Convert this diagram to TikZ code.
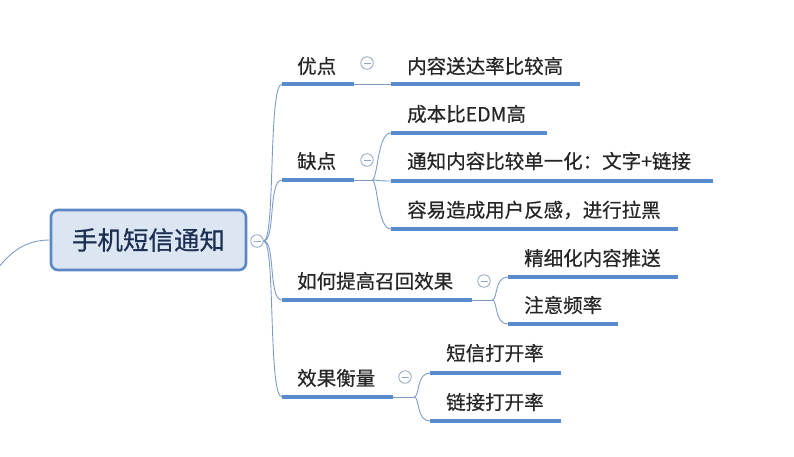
\documentclass[tikz,border=0pt]{standalone}
\usepackage{fontspec}
\setmainfont{Noto Sans CJK SC}[BoldFont=Noto Sans CJK SC, BoldFeatures={FakeBold=0.6}]
\definecolor{ln}{HTML}{5B8BCF}
\definecolor{cn}{HTML}{7C9CC8}
\definecolor{rootfill}{HTML}{DCE6F2}
\definecolor{rootdraw}{HTML}{5A87C5}
\definecolor{roottext}{HTML}{1B2F52}
\definecolor{tg}{HTML}{8FA6C6}
\tikzset{
  ul/.style={line width=4pt, draw=ln},
  conn/.style={line width=0.9pt, draw=cn},
  lab/.style={font=\fontsize{19.5}{20}\selectfont\bfseries, text=black!85, inner sep=0pt, anchor=west},
  tog/.style={circle, draw=tg, line width=0.8pt, minimum size=12.5pt, inner sep=0pt, fill=white},
  rootbox/.style={draw=rootdraw, line width=2.6pt, fill=rootfill, rounded corners=7pt,
     minimum width=195pt, minimum height=60pt, font=\fontsize{25.5}{26}\selectfont\bfseries, text=roottext}
}
\newcommand{\togminus}[1]{\draw[tg, line width=0.8pt] ([xshift=-3.5pt]#1.center) -- ([xshift=3.5pt]#1.center);}
\begin{document}
\begin{tikzpicture}[x=1pt,y=-1pt]
\useasboundingbox (0,0) rectangle (794,456);
% root
\node[rootbox] (root) at (148.5,240) {手机短信通知};
\coordinate (lend) at (-5,272);
\draw[conn] (root.west) .. controls (25,240) and (10,252) .. (lend);
\node[tog] (t0) at (257,241) {};
\togminus{t0}
% level-1 labels
\node[lab] (a) at (297,66) {优点};
\node[lab] (b) at (297,161) {缺点};
\node[lab] (c) at (297,281) {如何提高召回效果};
\node[lab] (d) at (297,378) {效果衡量};
% level-1 underline coordinates
\coordinate (a1) at (282,84);  \coordinate (a2) at (354,84);
\coordinate (b1) at (282,180); \coordinate (b2) at (354,180);
\coordinate (c1) at (282,300); \coordinate (c2) at (472,300);
\coordinate (d1) at (282,397); \coordinate (d2) at (393,397);
\draw[ul] (a1) -- (a2);
\draw[ul] (b1) -- (b2);
\draw[ul] (c1) -- (c2);
\draw[ul] (d1) -- (d2);
% trunk
\foreach \p in {a1,b1,c1,d1}{
  \draw[conn] (t0.east) .. controls ([xshift=12pt]t0.east) and ([xshift=-14pt]\p) .. (\p);
}
% toggles
\node[tog] (ta) at (367,63) {}; \togminus{ta}
\node[tog] (tb) at (367,160) {}; \togminus{tb}
\node[tog] (tc) at (484,281) {}; \togminus{tc}
\node[tog] (td) at (405,377) {}; \togminus{td}
% children labels
\node[lab] (a-1) at (407,66) {内容送达率比较高};
\node[lab] (b-1) at (407,114) {成本比EDM高};
\node[lab] (b-2) at (407,161) {通知内容比较单一化：文字+链接};
\node[lab] (b-3) at (407,210) {容易造成用户反感，进行拉黑};
\node[lab] (c-1) at (524,258) {精细化内容推送};
\node[lab] (c-2) at (524,305) {注意频率};
\node[lab] (d-1) at (446,353) {短信打开率};
\node[lab] (d-2) at (446,402) {链接打开率};
% children underlines
\coordinate (a-1s) at (391,84);  \coordinate (a-1e) at (580,84);
\coordinate (b-1s) at (391,133); \coordinate (b-1e) at (547,133);
\coordinate (b-2s) at (391,181); \coordinate (b-2e) at (713,181);
\coordinate (b-3s) at (391,229); \coordinate (b-3e) at (678,229);
\coordinate (c-1s) at (508,277); \coordinate (c-1e) at (678,277);
\coordinate (c-2s) at (508,324); \coordinate (c-2e) at (618,324);
\coordinate (d-1s) at (430,373); \coordinate (d-1e) at (561,373);
\coordinate (d-2s) at (430,421); \coordinate (d-2e) at (561,421);
\foreach \n in {a-1,b-1,b-2,b-3,c-1,c-2,d-1,d-2}{
  \draw[ul] (\n s) -- (\n e);
}
% junctions
\coordinate (bj) at (372,180);
\coordinate (cj) at (492,300);
\coordinate (dj) at (414,397);
\draw[conn] (a2) -- (a-1s);
\draw[conn] (b2) -- (bj);
\foreach \n in {b-1,b-2,b-3}{
  \draw[conn] (bj) .. controls ([xshift=6pt]bj) and ([xshift=-14pt]\n s) .. (\n s);
}
\draw[conn] (c2) -- (cj);
\foreach \n in {c-1,c-2}{
  \draw[conn] (cj) .. controls ([xshift=6pt]cj) and ([xshift=-14pt]\n s) .. (\n s);
}
\draw[conn] (d2) -- (dj);
\foreach \n in {d-1,d-2}{
  \draw[conn] (dj) .. controls ([xshift=6pt]dj) and ([xshift=-14pt]\n s) .. (\n s);
}
\end{tikzpicture}
\end{document}
